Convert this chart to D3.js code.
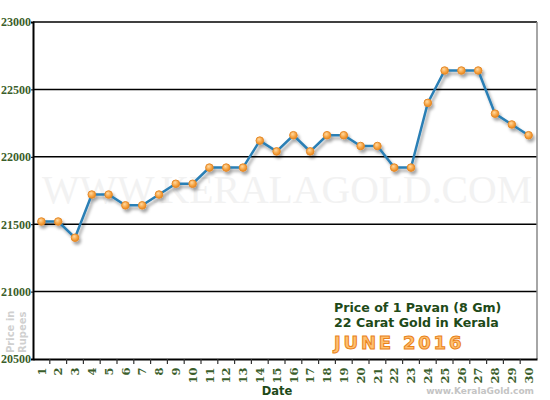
<!DOCTYPE html>
<html><head><meta charset="utf-8">
<script src="https://cdn.jsdelivr.net/npm/d3@7"></script>
<style>body{margin:0;background:#fff}svg{display:block}</style>
</head><body>
<svg id="c" width="550" height="400"></svg>
<script>
const days = d3.range(1, 31).map(String);
const prices = [21520,21520,21400,21720,21720,21640,21640,21720,21800,21800,21920,21920,21920,22120,22040,22160,22040,22160,22160,22080,22080,21920,21920,22400,22640,22640,22640,22320,22240,22160];
const yTicks = [20500,21000,21500,22000,22500,23000];
const titleLines = ["Price of 1 Pavan (8 Gm)", "22 Carat Gold in Kerala"];
const monthLabel = "JUNE 2016";

const svg = d3.select("#c");
const L = 33, R = 537, T = 22, B = 359;
const x = d3.scaleBand().domain(days).range([L, R]);
const y = d3.scaleLinear().domain([20500, 23000]).range([B, T]);

const defs = svg.append("defs");
const f = defs.append("filter").attr("id","sh").attr("x","-10%").attr("y","-10%").attr("width","130%").attr("height","140%");
f.append("feDropShadow").attr("dx",2).attr("dy",3).attr("stdDeviation",1.6).attr("flood-color","#000").attr("flood-opacity",0.35);
const g = defs.append("radialGradient").attr("id","dot").attr("cx","40%").attr("cy","35%").attr("r","65%");
g.append("stop").attr("offset","0%").attr("stop-color","#ffd9a0");
g.append("stop").attr("offset","60%").attr("stop-color","#f7a545");
g.append("stop").attr("offset","100%").attr("stop-color","#e98a20");

// watermark
svg.append("text").attr("x", 42).attr("y", 203)
  .attr("font-family","Liberation Serif, serif").attr("font-size", 40)
  .attr("fill","#f2f2f2").attr("textLength", 490).attr("lengthAdjust","spacingAndGlyphs")
  .text("WWW.KERALAGOLD.COM");

// gridlines
svg.append("g").selectAll("line").data(yTicks.slice(1)).join("line")
  .attr("x1", L).attr("x2", R).attr("y1", d => y(d)).attr("y2", d => y(d))
  .attr("stroke","#000").attr("stroke-width",1.5);

// right border
svg.append("line").attr("x1",R).attr("x2",R).attr("y1",T).attr("y2",B).attr("stroke","#888").attr("stroke-width",1.5);

// y axis
const ya = svg.append("g").attr("transform",`translate(${L},0)`)
  .call(d3.axisLeft(y).tickValues(yTicks).tickSize(2).tickFormat(d3.format("d")));
ya.select(".domain").attr("stroke","#000").attr("stroke-width",2);
ya.selectAll(".tick line").attr("stroke","#000");
ya.selectAll("text").attr("font-family","Liberation Serif, serif").attr("font-size",12)
  .attr("fill","#3b5e2b").attr("x",-2).attr("font-weight","bold");

// x axis
const xa = svg.append("g").attr("transform",`translate(0,${B})`)
  .call(d3.axisBottom(x).tickSize(0));
xa.select(".domain").attr("stroke","#000").attr("stroke-width",2);
xa.selectAll(".tick text").attr("font-family","DejaVu Serif, serif").attr("font-size",11.5)
  .attr("fill","#3b5e2b").attr("font-weight","bold")
  .attr("transform","rotate(-90)").attr("text-anchor","end").attr("dy","0.36em").attr("x",-8.5).attr("y",0);
// boundary tick marks
svg.append("g").selectAll("line").data(days.slice(1)).join("line")
  .attr("x1", d => x(d)).attr("x2", d => x(d)).attr("y1", B).attr("y2", B+5)
  .attr("stroke","#333").attr("stroke-width",1.2);

// legend panel
svg.append("rect").attr("x",322).attr("y",293).attr("width",R-323).attr("height",B-294).attr("fill","#fff");
const lg = svg.append("g");
titleLines.forEach((t,i)=>{
  lg.append("text").attr("x",334).attr("y",312 + i*15).attr("font-family","DejaVu Sans, Verdana, sans-serif")
    .attr("font-weight","bold").attr("font-size",12.6).attr("fill","#1e4a18").text(t);
});
lg.append("text").attr("x",334).attr("y",349).attr("font-family","DejaVu Sans, Verdana, sans-serif")
  .attr("font-weight","bold").attr("font-size",18).attr("letter-spacing",2.8)
  .attr("fill","#ffc070").attr("stroke","#e8821a").attr("stroke-width",1).text(monthLabel);

// y axis title
svg.append("text").attr("transform","translate(14,353) rotate(-90)")
  .attr("font-family","DejaVu Sans, Verdana, sans-serif").attr("font-weight","bold").attr("font-size",10).attr("fill","#d0d0d0")
  .attr("text-anchor","start").text("Price in");
svg.append("text").attr("transform","translate(26,353) rotate(-90)")
  .attr("font-family","DejaVu Sans, Verdana, sans-serif").attr("font-weight","bold").attr("font-size",10).attr("fill","#d0d0d0")
  .attr("text-anchor","start").text("Rupees");

// axis title and credit
svg.append("text").attr("x",277).attr("y",395).attr("text-anchor","middle")
  .attr("font-family","DejaVu Sans, Verdana, sans-serif").attr("font-weight","bold").attr("font-size",11.5).attr("fill","#1e4a18").text("Date");
svg.append("text").attr("x",534).attr("y",394).attr("text-anchor","end")
  .attr("font-family","DejaVu Sans, Verdana, sans-serif").attr("font-weight","bold").attr("font-size",9).attr("fill","#c4c4c4").text("www.KeralaGold.com");

// line + points
const data = days.map((d,i)=>({d, v: prices[i]}));
const cx = d => x(d.d) + x.bandwidth()/2;
const series = svg.append("g").attr("filter","url(#sh)");
series.append("path").datum(data)
  .attr("d", d3.line().x(cx).y(d => y(d.v)))
  .attr("fill","none").attr("stroke","#2a7fb5").attr("stroke-width",2.5);
series.selectAll("circle").data(data).join("circle")
  .attr("cx", cx).attr("cy", d => y(d.v)).attr("r", 3.8)
  .attr("fill","url(#dot)").attr("stroke","#e58a2a").attr("stroke-width",1);
</script>
</body></html>
